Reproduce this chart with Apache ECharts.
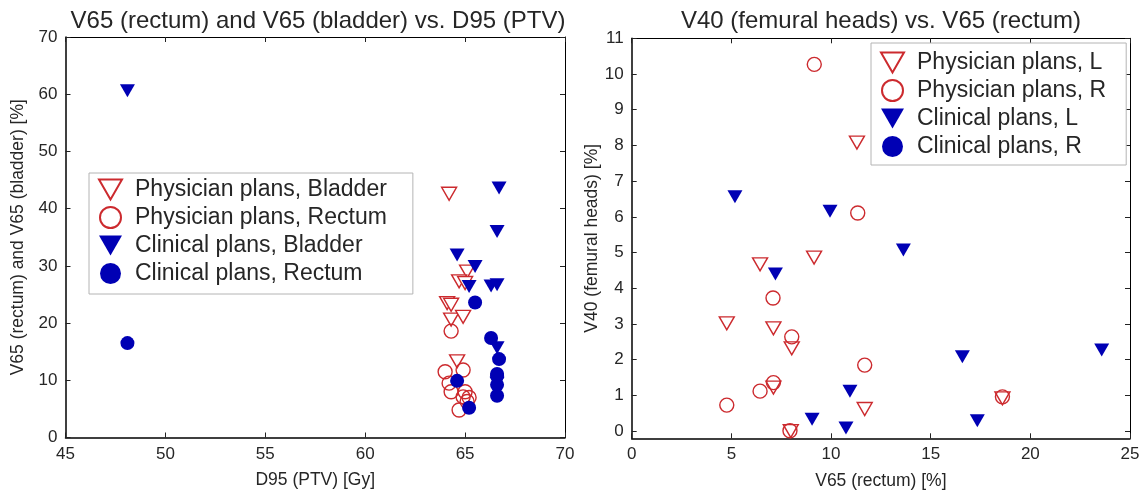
<!DOCTYPE html>
<html>
<head>
<meta charset="utf-8">
<script src="https://cdn.jsdelivr.net/npm/echarts@6/dist/echarts.min.js"></script>
<style>
  html, body { margin: 0; padding: 0; background: #fff; }
  #chart { width: 1145px; height: 496px; }
</style>
</head>
<body>
<div id="chart"></div>
<script>
// Left panel: D95 (PTV) [Gy] vs. V65 [%]
const physicianBladder = [[64.2,42.6],[65.1,29.0],[64.7,27.3],[65.0,27.0],[64.1,23.5],[64.3,23.2],[64.3,20.6],[64.9,21.1],[64.6,13.3]];
const physicianRectum  = [[64.3,18.6],[64.0,11.5],[64.9,11.8],[64.2,9.5],[64.3,8.0],[65.0,8.0],[64.9,7.1],[65.2,7.0],[65.1,6.3],[64.7,4.8]];
const clinicalBladder  = [[48.1,60.6],[66.7,43.6],[66.6,36.0],[64.6,31.9],[65.5,29.9],[65.2,26.4],[66.3,26.5],[66.6,26.7],[66.6,15.7],[66.6,9.5]];
const clinicalRectum   = [[48.1,16.5],[65.5,23.6],[66.3,17.4],[66.7,13.7],[66.6,11.1],[66.6,10.8],[66.6,9.2],[66.6,7.3],[64.6,9.9],[65.2,5.2]];

// Right panel: V65 (rectum) [%] vs. V40 (femoral heads) [%]
const physicianL = [[11.3,8.08],[9.15,4.86],[6.44,4.67],[4.77,3.02],[7.11,2.88],[8.03,2.32],[7.11,1.22],[18.6,0.92],[11.69,0.62],[7.98,0.0]];
const physicianR = [[9.16,10.27],[11.34,6.11],[7.09,3.73],[8.03,2.64],[11.69,1.85],[7.11,1.36],[6.44,1.12],[4.77,0.73],[18.6,0.96],[7.94,0.01]];
const clinicalL  = [[5.18,6.56],[9.95,6.16],[13.63,5.07],[7.21,4.40],[16.59,2.08],[23.58,2.27],[10.95,1.12],[9.05,0.33],[10.75,0.09],[17.34,0.29]];
const clinicalR  = [];

const rightYTicks = [0,1,2,3,4,5,6,7,8,9,10,11];

const RED = '#cc2a2e';
const BLUE = '#0000b4';
const TEXT = '#262626';
const FONT = 'Liberation Sans';
const TRI = 'path://M0,0 L10,0 L5,8.7 Z';

const hollowTri = { symbol: TRI, symbolSize: [15, 13], itemStyle: { color: '#fff', borderColor: RED, borderWidth: 1.4, opacity: 1 } };
const hollowCirc = { symbol: 'circle', symbolSize: 14, itemStyle: { color: 'rgba(255,255,255,0)', borderColor: RED, borderWidth: 1.4, opacity: 1 } };
const solidTri = { symbol: TRI, symbolSize: [15, 13], itemStyle: { color: BLUE, borderWidth: 0, opacity: 1 } };
const solidCirc = { symbol: 'circle', symbolSize: 14, itemStyle: { color: BLUE, borderWidth: 0, opacity: 1 } };

function axisBase(extra) {
  return Object.assign({
    type: 'value',
    axisLine: { show: true, onZero: false, lineStyle: { color: '#000', width: 1.5 } },
    axisTick: { show: true, inside: true, length: 5, lineStyle: { color: '#222', width: 1 } },
    axisLabel: { color: TEXT, fontFamily: FONT, fontSize: 17, margin: 8 },
    splitLine: { show: false },
    nameTextStyle: { color: TEXT, fontFamily: FONT, fontSize: 17.5 }
  }, extra);
}
function mirror(extra) {
  const a = axisBase(extra);
  a.axisLabel = { show: false };
  a.axisLine.lineStyle = { color: '#000', width: 1 };
  a.name = '';
  return a;
}

const legendText = { color: TEXT, fontFamily: FONT, fontSize: 23, lineHeight: 20, padding: [0, 0, 0, 8] };

const chart = echarts.init(document.getElementById('chart'), null, { renderer: 'canvas' });
chart.setOption({
  animation: false,
  backgroundColor: '#fff',
  title: [
    { text: 'V65 (rectum) and V65 (bladder) vs. D95 (PTV)', left: 313, top: 4, textAlign: 'center',
      textStyle: { color: TEXT, fontFamily: FONT, fontSize: 24, fontWeight: 'normal' } },
    { text: 'V40 (femural heads) vs. V65 (rectum)', left: 876, top: 4, textAlign: 'center',
      textStyle: { color: TEXT, fontFamily: FONT, fontSize: 24, fontWeight: 'normal' } }
  ],
  grid: [
    { left: 65.5, top: 37, width: 499.5, height: 400.5 },
    { left: 631.7, top: 38.3, width: 498.3, height: 400 }
  ],
  xAxis: [
    axisBase({ gridIndex: 0, min: 45, max: 70, interval: 5, name: 'D95 (PTV) [Gy]', nameLocation: 'middle', nameGap: 34 }),
    mirror({ gridIndex: 0, min: 45, max: 70, interval: 5, position: 'top' }),
    axisBase({ gridIndex: 1, min: 0, max: 25, interval: 5, name: 'V65 (rectum) [%]', nameLocation: 'middle', nameGap: 34 }),
    mirror({ gridIndex: 1, min: 0, max: 25, interval: 5, position: 'top' })
  ],
  yAxis: [
    axisBase({ gridIndex: 0, min: 0, max: 70, interval: 10, name: 'V65 (rectum) and V65 (bladder) [%]', nameLocation: 'middle', nameGap: 38 }),
    mirror({ gridIndex: 0, min: 0, max: 70, interval: 10, position: 'right' }),
    (function () {
      const a = axisBase({ gridIndex: 1, min: -0.2, max: 11, name: 'V40 (femural heads) [%]', nameLocation: 'middle', nameGap: 23 });
      a.axisTick.customValues = rightYTicks;
      a.axisLabel.customValues = rightYTicks;
      return a;
    })(),
    (function () {
      const a = mirror({ gridIndex: 1, min: -0.2, max: 11, position: 'right' });
      a.axisTick.customValues = rightYTicks;
      return a;
    })()
  ],
  legend: [
    { orient: 'vertical', left: 89, top: 173, itemWidth: 23, itemHeight: 21, itemGap: 5,
      padding: [5, 26, 9, 9], borderColor: '#b4b4b4', borderWidth: 1, backgroundColor: '#fff',
      textStyle: legendText, selectedMode: false,
      data: ['Physician plans, Bladder', 'Physician plans, Rectum', 'Clinical plans, Bladder', 'Clinical plans, Rectum'] },
    { orient: 'vertical', left: 871, top: 43, itemWidth: 23, itemHeight: 21, itemGap: 5,
      padding: [8, 20, 7, 9], borderColor: '#b4b4b4', borderWidth: 1, backgroundColor: '#fff',
      textStyle: legendText, selectedMode: false,
      data: ['Physician plans, L', 'Physician plans, R', 'Clinical plans, L', 'Clinical plans, R'] }
  ],
  series: [
    Object.assign({ type: 'scatter', name: 'Physician plans, Bladder', xAxisIndex: 0, yAxisIndex: 0, data: physicianBladder, z: 2 }, hollowTri),
    Object.assign({ type: 'scatter', name: 'Physician plans, Rectum', xAxisIndex: 0, yAxisIndex: 0, data: physicianRectum, z: 3 }, hollowCirc),
    Object.assign({ type: 'scatter', name: 'Clinical plans, Bladder', xAxisIndex: 0, yAxisIndex: 0, data: clinicalBladder, z: 4 }, solidTri),
    Object.assign({ type: 'scatter', name: 'Clinical plans, Rectum', xAxisIndex: 0, yAxisIndex: 0, data: clinicalRectum, z: 5 }, solidCirc),
    Object.assign({ type: 'scatter', name: 'Physician plans, L', xAxisIndex: 2, yAxisIndex: 2, data: physicianL, z: 2 }, hollowTri),
    Object.assign({ type: 'scatter', name: 'Physician plans, R', xAxisIndex: 2, yAxisIndex: 2, data: physicianR, z: 3 }, hollowCirc),
    Object.assign({ type: 'scatter', name: 'Clinical plans, L', xAxisIndex: 2, yAxisIndex: 2, data: clinicalL, z: 4 }, solidTri),
    Object.assign({ type: 'scatter', name: 'Clinical plans, R', xAxisIndex: 2, yAxisIndex: 2, data: clinicalR, z: 5 }, solidCirc)
  ]
});
</script>
</body>
</html>
